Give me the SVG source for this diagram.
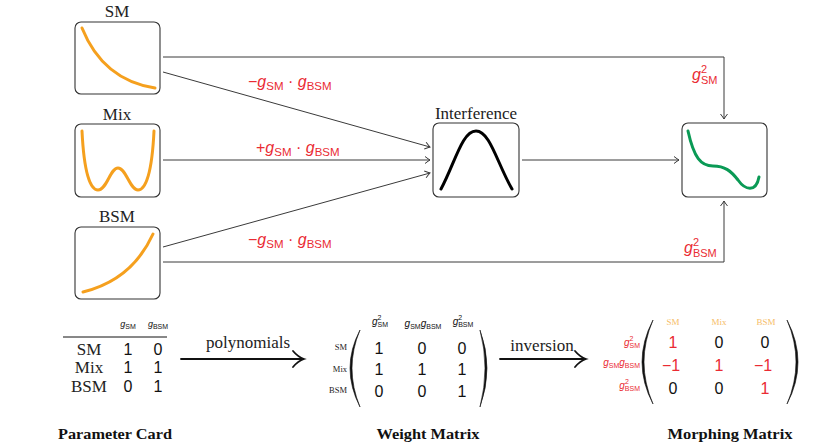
<svg xmlns="http://www.w3.org/2000/svg" width="830" height="446" viewBox="0 0 830 446">
<defs>
<style>
.box{fill:#fff;stroke:#333;stroke-width:1.1}
.con{fill:none;stroke:#3a3a3a;stroke-width:1}
.serif{font-family:"Liberation Serif","DejaVu Serif",serif;fill:#222}
.sans{font-family:"Liberation Sans",Arial,sans-serif;fill:#111}
.red{font-family:"Liberation Sans",Arial,sans-serif;fill:#ea2b33}
.it{font-style:italic}
.orange{fill:none;stroke:#f5a01e;stroke-width:3;stroke-linecap:round}
.title{font-family:"Liberation Serif","DejaVu Serif",serif;font-weight:bold;font-size:15px;fill:#111}
.big{fill:none;stroke:#111;stroke-width:1.8;stroke-linecap:round}
.paren{fill:#111;stroke:#111;stroke-width:0.6}
.hdr{font-family:"Liberation Serif","DejaVu Serif",serif;fill:#f6bd68}
</style>
<marker id="ah" viewBox="-6 -5 8 10" markerWidth="8" markerHeight="10" refX="0" refY="0" orient="auto" markerUnits="userSpaceOnUse">
<path d="M-5,-3.5 Q-1.5,-0.8 0,0 Q-1.5,0.8 -5,3.5" fill="none" stroke="#3a3a3a" stroke-width="1"/>
</marker>
</defs>
<rect width="830" height="446" fill="#fff"/>

<g id="connectors">
<path class="con" d="M163,57 H724 V119" marker-end="url(#ah)"/>
<path class="con" d="M163,72 L430,147" marker-end="url(#ah)"/>
<path class="con" d="M163,160 L430,160" marker-end="url(#ah)"/>
<path class="con" d="M163,247 L430,173" marker-end="url(#ah)"/>
<path class="con" d="M163,262 H724 V201" marker-end="url(#ah)"/>
<path class="con" d="M522,160 L679,160" marker-end="url(#ah)"/>
<text class="red" x="248" y="87" font-size="16">−<tspan class="it">g</tspan><tspan font-size="11.5" dy="3">SM</tspan><tspan dy="-3"> · </tspan><tspan class="it">g</tspan><tspan font-size="11.5" dy="3">BSM</tspan></text>
<text class="red" x="256" y="153" font-size="16">+<tspan class="it">g</tspan><tspan font-size="11.5" dy="3">SM</tspan><tspan dy="-3"> · </tspan><tspan class="it">g</tspan><tspan font-size="11.5" dy="3">BSM</tspan></text>
<text class="red" x="248" y="245" font-size="16">−<tspan class="it">g</tspan><tspan font-size="11.5" dy="3">SM</tspan><tspan dy="-3"> · </tspan><tspan class="it">g</tspan><tspan font-size="11.5" dy="3">BSM</tspan></text>
<text class="red" x="692" y="80" font-size="16"><tspan class="it">g</tspan><tspan font-size="11" dy="-7">2</tspan><tspan font-size="11" dx="-6.1" dy="11">SM</tspan></text>
<text class="red" x="684" y="253" font-size="16"><tspan class="it">g</tspan><tspan font-size="11" dy="-7">2</tspan><tspan font-size="11" dx="-6.1" dy="11">BSM</tspan></text>
</g>

<g id="node-sm">
<text class="serif" x="117" y="17" font-size="17" text-anchor="middle">SM</text>
<rect class="box" x="75" y="22" width="85" height="72" rx="6"/>
<path class="orange" d="M82,28 Q103,80 155,88"/>
</g>
<g id="node-mix">
<text class="serif" x="117" y="120" font-size="17" text-anchor="middle">Mix</text>
<rect class="box" x="75" y="124" width="85" height="73" rx="6"/>
<path class="orange" d="M82,131 C84,172 90,190 98,190 C107,190 110,168 118,168 C126,168 130,190 138,190 C146,190 152,172 154,131"/>
</g>
<g id="node-bsm">
<text class="serif" x="117" y="222" font-size="17" text-anchor="middle">BSM</text>
<rect class="box" x="75" y="227" width="85" height="72" rx="6"/>
<path class="orange" d="M83,292 Q132,280 153,234"/>
</g>
<g id="node-interference">
<text class="serif" x="476" y="119" font-size="17" text-anchor="middle">Interference</text>
<rect class="box" x="433" y="123" width="86" height="74" rx="6"/>
<path d="M441,189 C455,163 462,131 476,131 C490,131 497,163 512,189" fill="none" stroke="#000" stroke-width="3" stroke-linecap="round"/>
</g>
<g id="node-result">
<rect class="box" x="682" y="123" width="85" height="74" rx="6"/>
<path d="M688,131 C694,158 701,166 713,166 C725,166 731,171 738,180 C745,190 756,193 759,177" fill="none" stroke="#0a9a55" stroke-width="3" stroke-linecap="round"/>
</g>

<g id="parameter-card">
<text class="sans it" x="128" y="327" font-size="9" text-anchor="middle">g<tspan font-style="normal" font-size="7" dy="2">SM</tspan></text>
<text class="sans it" x="158" y="327" font-size="9" text-anchor="middle">g<tspan font-style="normal" font-size="7" dy="2">BSM</tspan></text>
<line x1="63" y1="337" x2="167" y2="337" stroke="#111" stroke-width="1"/>
<text class="serif" x="89" y="355" font-size="17" text-anchor="middle">SM</text>
<text class="serif" x="89" y="373" font-size="17" text-anchor="middle">Mix</text>
<text class="serif" x="89" y="392" font-size="17" text-anchor="middle">BSM</text>
<text class="sans" x="128" y="355" font-size="16" text-anchor="middle">1</text>
<text class="sans" x="158" y="355" font-size="16" text-anchor="middle">0</text>
<text class="sans" x="128" y="373" font-size="16" text-anchor="middle">1</text>
<text class="sans" x="158" y="373" font-size="16" text-anchor="middle">1</text>
<text class="sans" x="128" y="392" font-size="16" text-anchor="middle">0</text>
<text class="sans" x="158" y="392" font-size="16" text-anchor="middle">1</text>
<text class="title" x="115" y="439" text-anchor="middle" textLength="114" lengthAdjust="spacingAndGlyphs">Parameter Card</text>
</g>

<g id="arrow-polynomials">
<text class="serif" x="248" y="348" font-size="17" text-anchor="middle">polynomials</text>
<path class="big" d="M181,359 H302"/>
<path class="big" d="M293,351 Q298,357 304,359 Q298,361 293,367"/>
</g>

<g id="weight-matrix">
<text class="sans it" x="380" y="325" font-size="10" text-anchor="middle">g<tspan font-style="normal" font-size="7" dy="-5">2</tspan><tspan font-style="normal" font-size="7" dx="-4" dy="7">SM</tspan></text>
<text class="sans it" x="423" y="327" font-size="10" text-anchor="middle">g<tspan font-style="normal" font-size="7" dy="2">SM</tspan><tspan dy="-2">g</tspan><tspan font-style="normal" font-size="7" dy="2">BSM</tspan></text>
<text class="sans it" x="463" y="325" font-size="10" text-anchor="middle">g<tspan font-style="normal" font-size="7" dy="-5">2</tspan><tspan font-style="normal" font-size="7" dx="-4" dy="7">BSM</tspan></text>
<text class="serif" x="347" y="350" font-size="8.5" text-anchor="end">SM</text>
<text class="serif" x="347" y="372" font-size="8.5" text-anchor="end">Mix</text>
<text class="serif" x="347" y="393" font-size="8.5" text-anchor="end">BSM</text>
<path class="paren" d="M360,330 Q340,368 360,407 Q344,368 360,330 Z"/>
<path class="paren" d="M480,330 Q494,368 480,407 Q490,368 480,330 Z"/>
<text class="sans" x="379" y="354" font-size="16" text-anchor="middle">1</text>
<text class="sans" x="422" y="354" font-size="16" text-anchor="middle">0</text>
<text class="sans" x="462" y="354" font-size="16" text-anchor="middle">0</text>
<text class="sans" x="379" y="375" font-size="16" text-anchor="middle">1</text>
<text class="sans" x="422" y="375" font-size="16" text-anchor="middle">1</text>
<text class="sans" x="462" y="375" font-size="16" text-anchor="middle">1</text>
<text class="sans" x="379" y="397" font-size="16" text-anchor="middle">0</text>
<text class="sans" x="422" y="397" font-size="16" text-anchor="middle">0</text>
<text class="sans" x="462" y="397" font-size="16" text-anchor="middle">1</text>
<text class="title" x="428" y="439" text-anchor="middle" textLength="103" lengthAdjust="spacingAndGlyphs">Weight Matrix</text>
</g>

<g id="arrow-inversion">
<text class="serif" x="542" y="351" font-size="17" text-anchor="middle">inversion</text>
<path class="big" d="M500,359 H584"/>
<path class="big" d="M575,351 Q580,357 586,359 Q580,361 575,367"/>
</g>

<g id="morphing-matrix">
<text class="hdr" x="673" y="325" font-size="9" text-anchor="middle">SM</text>
<text class="hdr" x="719" y="325" font-size="9" text-anchor="middle">Mix</text>
<text class="hdr" x="766" y="325" font-size="9" text-anchor="middle">BSM</text>
<text class="red it" x="640" y="346" font-size="10" text-anchor="end">g<tspan font-style="normal" font-size="7" dy="-5">2</tspan><tspan font-style="normal" font-size="7" dx="-4" dy="7">SM</tspan></text>
<text class="red it" x="640" y="366" font-size="10" text-anchor="end">g<tspan font-style="normal" font-size="7" dy="2">SM</tspan><tspan dy="-2">g</tspan><tspan font-style="normal" font-size="7" dy="2">BSM</tspan></text>
<text class="red it" x="640" y="389" font-size="10" text-anchor="end">g<tspan font-style="normal" font-size="7" dy="-5">2</tspan><tspan font-style="normal" font-size="7" dx="-4" dy="7">BSM</tspan></text>
<path class="paren" d="M653,320 Q631,362 653,404 Q635,362 653,320 Z"/>
<path class="paren" d="M787,320 Q809,362 787,404 Q805,362 787,320 Z"/>
<text class="red" x="673" y="348" font-size="16" text-anchor="middle">1</text>
<text class="sans" x="719" y="348" font-size="16" text-anchor="middle">0</text>
<text class="sans" x="765" y="348" font-size="16" text-anchor="middle">0</text>
<text class="red" x="671" y="371" font-size="16" text-anchor="middle">−1</text>
<text class="red" x="719" y="371" font-size="16" text-anchor="middle">1</text>
<text class="red" x="763" y="371" font-size="16" text-anchor="middle">−1</text>
<text class="sans" x="673" y="394" font-size="16" text-anchor="middle">0</text>
<text class="sans" x="719" y="394" font-size="16" text-anchor="middle">0</text>
<text class="red" x="765" y="394" font-size="16" text-anchor="middle">1</text>
<text class="title" x="730" y="439" text-anchor="middle" textLength="125" lengthAdjust="spacingAndGlyphs">Morphing Matrix</text>
</g>
</svg>
